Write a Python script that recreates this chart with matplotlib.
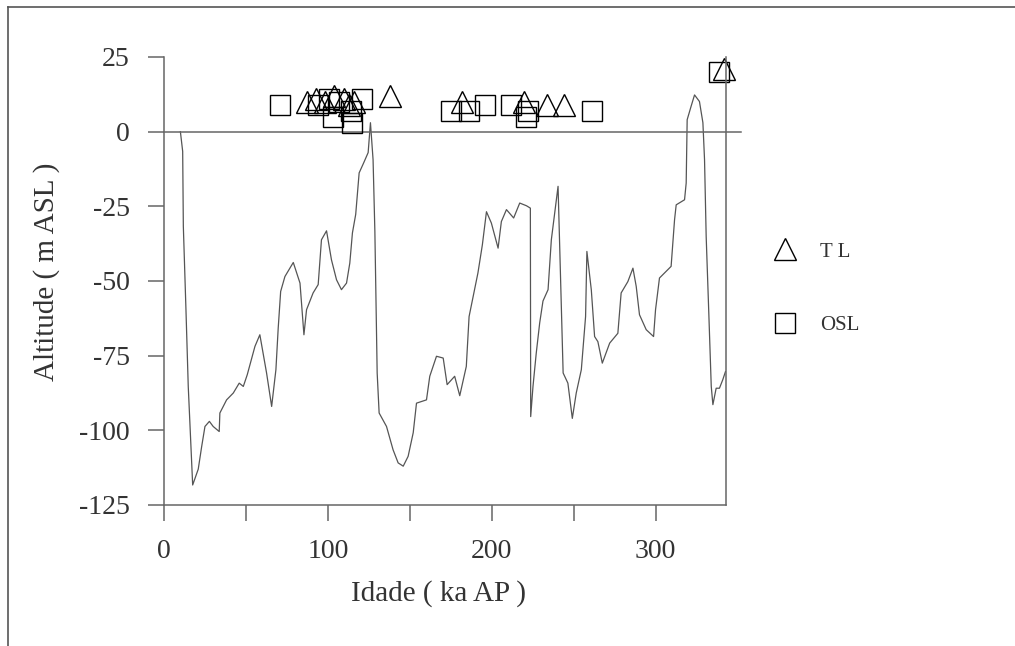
import matplotlib
matplotlib.use("Agg")
import matplotlib.pyplot as plt
from matplotlib.lines import Line2D
import numpy as np

plt.rcParams['font.family'] = ['Liberation Serif', 'DejaVu Serif']
plt.rcParams['axes.unicode_minus'] = False

# sea-level curve (ka BP, m ASL)
age = [10, 11.4, 11.8, 13.4, 14.8, 15.9, 17.5, 20.9, 23, 25, 27.7, 30, 33.7, 34.1,
       38.2, 42.3, 45.9, 48.4, 50.8, 55.5, 58.5, 62.6, 65.7, 68.3, 69.7, 71.2,
       73.8, 78.9, 83, 85.4, 87, 91, 94.1, 96.1, 99.2, 102.2, 105.3, 108.3,
       111.4, 113.4, 115, 117, 119.1, 121.9, 124.6, 126, 127.6, 128.7, 130.1,
       131.3, 135.8, 139.8, 142.9, 146, 149, 152.1, 154.1, 160.2, 162.2, 166.3,
       170.4, 172.8, 177.4, 180.5, 184.5, 186.2, 191.6, 194.3, 196.8, 199.8,
       203.9, 205.9, 209, 213.4, 217.1, 221.2, 223.6, 223.8, 225.2, 227.2,
       229.3, 231.3, 234.4, 236.4, 240.5, 241.5, 243.6, 246.5, 249.2, 251.6,
       254.7, 257.3, 258.1, 260.8, 262.8, 264.8, 267.5, 272, 277, 279, 283.1,
       286.2, 288.2, 290.2, 294.3, 298.8, 300, 302.4, 309.5, 311.6, 312.6,
       317.7, 318.7, 319.3, 321.7, 323.8, 326.8, 328.9, 329.9, 330.9, 332.5,
       334, 335, 337, 339, 341, 342.7]
level = [0, -6.6, -31.7, -59.6, -85.3, -98.7, -118.3, -113, -105.4, -98.7, -97,
         -98.7, -100.4, -94.2, -89.8, -87.5, -84.2, -85.3, -81.4, -71.9, -68,
         -80.8, -92, -79.7, -65.8, -53.5, -48.5, -43.8, -50.7, -68, -59.6, -54,
         -51.2, -36.2, -33.2, -42.9, -49.6, -52.9, -50.7, -44, -33.9, -27.7,
         -13.8, -10.4, -7, 3, -9.4, -33.4, -80.8, -94.2, -98.7, -106.5, -110.9,
         -112, -108.7, -100.8, -90.9, -89.8, -81.9, -75.2, -75.8, -84.7, -81.9,
         -88.4, -78.6, -61.9, -47.3, -37.9, -26.8, -30.6, -39, -30.1, -26.1,
         -28.9, -23.9, -24.8, -25.6, -95.4, -85.3, -74.1, -64, -56.7, -52.9,
         -36.2, -18.3, -38.4, -80.8, -84.2, -96, -87.5, -79.7, -61.9, -40.1,
         -53, -68.6, -70.3, -77.5, -70.8, -67.5, -54, -50.2, -45.7, -51.8,
         -61.3, -66.3, -68.6, -59.6, -49, -45.1, -29.5, -24.5, -22.8, -17.2, 4,
         8.5, 12.3, 10.1, 3, -9.4, -35.1, -60.7, -85.3, -91.4, -85.9, -85.9,
         -83.1, -80.3]

# dated samples
tl_age = [87, 93, 98, 104, 110, 113, 116, 138, 182, 220, 234, 244, 342]
tl_alt = [10, 11, 10, 12, 11, 9, 10, 12, 10, 10, 9, 9, 21]
osl_age = [71, 94, 101, 103, 107, 114, 115, 121, 175, 186, 196, 212, 221, 222, 261, 339]
osl_alt = [9, 9, 11, 5, 10, 7, 3, 11, 7, 7, 9, 9, 5, 7, 7, 20]

xticks = [0, 50, 100, 150, 200, 250, 300]
xticklabels = ['0', '', '100', '', '200', '', '300']
yticks = [25, 0, -25, -50, -75, -100, -125]

W, H = 1015, 646
fig = plt.figure(figsize=(W / 100, H / 100), dpi=100)
ax = fig.add_axes([164 / W, 1 - 505 / H, (726 - 164) / W, (505 - 57) / H])

axcol = '#666666'
ax.plot(age, level, color='#555555', lw=0.9)
ax.axhline(0, xmin=0, xmax=352 / 343, color=axcol, lw=1.1, clip_on=False)

ax.plot(tl_age, tl_alt, ls='none', marker='^', ms=16, mfc='none', mec='black',
        mew=1.0, label='T L', clip_on=False)
ax.plot(osl_age, osl_alt, ls='none', marker='s', ms=14, mfc='none', mec='black',
        mew=1.0, label='OSL', clip_on=False)

ax.set_xlim(0, 343)
ax.set_ylim(-125, 25)
ax.spines['top'].set_visible(False)
for s in ['left', 'bottom', 'right']:
    ax.spines[s].set_color(axcol)
    ax.spines[s].set_linewidth(1.1)

ax.set_xticks(xticks)
ax.set_xticklabels(xticklabels)
ax.set_yticks(yticks)
ax.tick_params(direction='out', length=11.5, width=1.1, color=axcol,
               labelsize=20, labelcolor='#333333', pad=13)

ax.set_xlabel('Idade ( ka AP )', fontsize=21, color='#333333')
ax.set_ylabel('Altitude ( m ASL )', fontsize=21, color='#333333')
ax.xaxis.set_label_coords(0.489, -0.167)
ax.yaxis.set_label_coords(-0.185, 0.52)

fig.legend(loc='center left', bbox_to_anchor=(764 / W, 1 - 288.5 / H),
           bbox_transform=fig.transFigure, frameon=False, numpoints=1,
           fontsize=15, labelspacing=2.57, handletextpad=0.68, borderpad=0,
           borderaxespad=0, labelcolor='#333333')

# outer frame of the figure
fig.add_artist(Line2D([8 / W, 1], [1 - 7 / H, 1 - 7 / H], color='#555555', lw=1.2))
fig.add_artist(Line2D([8 / W, 8 / W], [1 - 7 / H, 0], color='#555555', lw=1.2))

fig.savefig('out.png', dpi=100)
